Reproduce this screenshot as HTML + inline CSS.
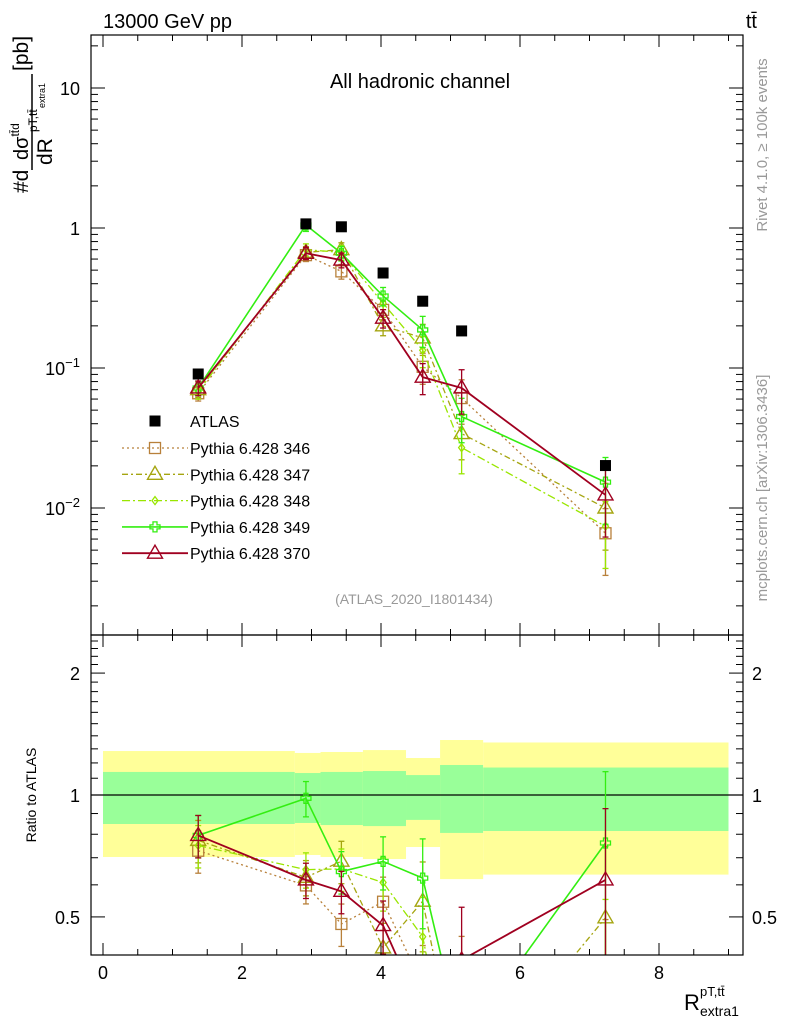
<!DOCTYPE html>
<html><head><meta charset="utf-8"><style>body{margin:0;background:#fff;overflow:hidden}svg{display:block;font-family:"Liberation Sans",sans-serif}</style></head>
<body>
<svg id="c" width="786" height="1024" viewBox="0 0 786 1024">
<defs>
<clipPath id="cm"><rect x="91" y="35" width="652" height="600"/></clipPath>
<clipPath id="cr"><rect x="91" y="635" width="652" height="320"/></clipPath>
</defs>
<g id="bands" clip-path="url(#cr)"></g>
<g id="marksR" clip-path="url(#cr)"></g>
<g id="marksM" clip-path="url(#cm)"></g>
<g id="axes"></g>
<text x="103" y="28" font-size="20">13000 GeV pp</text>
<text x="757" y="28" font-size="20" text-anchor="end">tt̄</text>
<text x="420" y="88" font-size="20" text-anchor="middle">All hadronic channel</text>
<text x="414" y="604" font-size="14" fill="#999" text-anchor="middle">(ATLAS_2020_I1801434)</text>
<text transform="translate(767,145) rotate(-90)" font-size="15" fill="#999" text-anchor="middle">Rivet 4.1.0, ≥ 100k events</text>
<text transform="translate(767,488) rotate(-90)" font-size="15" fill="#999" text-anchor="middle">mcplots.cern.ch [arXiv:1306.3436]</text>
<g transform="translate(0,200) rotate(-90)">
<text x="7" y="28" font-size="21">#d</text>
<text x="40" y="28" font-size="20">dσ<tspan font-size="12" dy="-9">tt̄d</tspan></text>
<line x1="30" y1="32" x2="126" y2="32" stroke="#000" stroke-width="1.5"/>
<text x="35" y="52" font-size="21">dR</text>
<text x="68" y="37" font-size="12">pT,tt̄</text>
<text x="92" y="45" font-size="9">extra1</text>
<text x="129" y="28" font-size="21">[pb]</text>
</g>
<text transform="translate(36,795) rotate(-90)" font-size="14" text-anchor="middle">Ratio to ATLAS</text>
<text x="684" y="1010" font-size="22">R</text>
<text x="700" y="996" font-size="13">pT,tt̄</text>
<text x="700" y="1016" font-size="14">extra1</text>
<g id="legend"></g>
</svg>
<script>
const xCenters=[1.37,2.92,3.43,4.03,4.6,5.16,7.23];
const atlas=[0.0906,1.07,1.02,0.477,0.30,0.184,0.0201];
const s346=[0.066,0.64,0.49,0.26,0.102,0.061,0.0066];
const s347=[0.070,0.67,0.70,0.20,0.164,0.034,0.010];
const s348=[0.068,0.70,0.67,0.29,0.134,0.027,0.0074];
const s349=[0.072,1.05,0.66,0.327,0.187,0.045,0.0153];
const s370=[0.072,0.66,0.59,0.227,0.086,0.072,0.0124];
const simRelErr=[0.12,0.1,0.12,0.15,0.25,0.35,0.5];
const binEdges=[0,2.76,3.13,3.74,4.36,4.85,5.47,9.0];
const bandY_hi=[1.284,1.27,1.277,1.291,1.234,1.367,1.348];
const bandY_lo=[0.703,0.711,0.703,0.695,0.744,0.62,0.636];
const bandG_hi=[1.14,1.133,1.14,1.146,1.12,1.186,1.169];
const bandG_lo=[0.848,0.853,0.843,0.838,0.868,0.806,0.815];
const xTicks=[0,2,4,6,8];
const ratioTicks=[0.5,1,2];

const NS="http://www.w3.org/2000/svg";
const L0=91,R0=743;
const X=v=>103+v*69.5;
const YM=v=>228-140*Math.log10(v);
const YR=v=>795-405*Math.log10(v);
function el(t,a,p){const e=document.createElementNS(NS,t);for(const k in a)e.setAttribute(k,a[k]);p.appendChild(e);return e;}
const bands=document.getElementById('bands'),mR=document.getElementById('marksR'),mM=document.getElementById('marksM'),ax=document.getElementById('axes'),lg=document.getElementById('legend');
for(let i=0;i<binEdges.length-1;i++){
 let r=el('rect',{x:X(binEdges[i]),y:YR(bandY_hi[i]),width:X(binEdges[i+1])-X(binEdges[i]),height:YR(bandY_lo[i])-YR(bandY_hi[i]),fill:'#ffff99'},bands);
 
 
 let g=el('rect',{x:X(binEdges[i]),y:YR(bandG_hi[i]),width:X(binEdges[i+1])-X(binEdges[i]),height:YR(bandG_lo[i])-YR(bandG_hi[i]),fill:'#99ff99'},bands);
 
 
}
el('line',{x1:L0,x2:R0,y1:YR(1),y2:YR(1),stroke:'#000','stroke-width':1.2},bands);
function marker(p,type,x,y,col){
 if(type==='sq')return el('rect',{x:x-5.5,y:y-5.5,width:11,height:11,fill:'none',stroke:col,'stroke-width':1.3},p);
 if(type==='tri')return el('path',{d:`M${x},${y-8}L${x+7.5},${y+5}L${x-7.5},${y+5}Z`,fill:'none',stroke:col,'stroke-width':1.4},p);
 if(type==='dia')return el('path',{d:`M${x},${y-4}L${x+3},${y}L${x},${y+4}L${x-3},${y}Z`,fill:'none',stroke:col,'stroke-width':1.3},p);
 if(type==='cross')return el('path',{d:`M${x-2},${y-5}h4v3h3v4h-3v3h-4v-3h-3v-4h3Z`,fill:'none',stroke:col,'stroke-width':1.3},p);
}
const series=[
 {name:'Pythia 6.428 346',v:s346,col:'#b8803a',dash:'2,3',m:'sq',w:1.3},
 {name:'Pythia 6.428 347',v:s347,col:'#a5a510',dash:'6,3,2,3',m:'tri',w:1.3},
 {name:'Pythia 6.428 348',v:s348,col:'#99e600',dash:'8,3,2,3',m:'dia',w:1.3},
 {name:'Pythia 6.428 349',v:s349,col:'#33ee11',dash:'',m:'cross',w:1.6},
 {name:'Pythia 6.428 370',v:s370,col:'#a00020',dash:'',m:'tri',w:1.8}
];
series.forEach((s,si)=>{
 [[mM,YM,s.v],[mR,YR,s.v.map((v,i)=>v/atlas[i])]].forEach(([p,Y,vals])=>{
  const g=el('g',{},p);
  
  
  const pl=el('polyline',{points:vals.map((v,i)=>X(xCenters[i])+','+Y(v)).join(' '),fill:'none',stroke:s.col,'stroke-width':s.w},g);
  if(s.dash)pl.setAttribute('stroke-dasharray',s.dash);
  vals.forEach((v,i)=>{
   const x=X(xCenters[i]),e=simRelErr[i];
   const y1=Y(v*(1+e)),y2=Y(Math.max(v*(1-e),1e-4));
   el('line',{x1:x,x2:x,y1:y1,y2:y2,stroke:s.col,'stroke-width':1.3},g);
   el('line',{x1:x-3,x2:x+3,y1:y1,y2:y1,stroke:s.col,'stroke-width':1.3},g);
   el('line',{x1:x-3,x2:x+3,y1:y2,y2:y2,stroke:s.col,'stroke-width':1.3},g);
   const mk=marker(g,s.m,x,Y(v),s.col);
   
   
  });
 });
 const ly=448+si*26.3;
 const lgl=el('line',{x1:122,x2:188,y1:ly,y2:ly,stroke:s.col,'stroke-width':s.w},lg);
 if(s.dash)lgl.setAttribute('stroke-dasharray',s.dash);
 marker(lg,s.m,155,ly,s.col);
 const t=el('text',{x:190,y:ly+6,'font-size':16},lg);t.textContent=s.name;
 
 
});
atlas.forEach((v,i)=>{
 const r=el('rect',{x:X(xCenters[i])-5.5,y:YM(v)-5.5,width:11,height:11,fill:'#000'},mM);
 
 
});
el('rect',{x:149.5,y:415.5,width:11,height:11,fill:'#000'},lg);
{const t=el('text',{x:190,y:427,'font-size':16},lg);t.textContent='ATLAS';

}
el('rect',{x:L0,y:35,width:R0-L0,height:600,fill:'none',stroke:'#000','stroke-width':1.2},ax);
el('rect',{x:L0,y:635,width:R0-L0,height:320,fill:'none',stroke:'#000','stroke-width':1.2},ax);
for(let k=0;k<=18;k++){const v=k*0.5;const x=X(v);if(x>R0)continue;const L=(k%4===0)?12:6;
 [[35,1],[635,-1],[635,1],[955,-1]].forEach(([y,d])=>el('line',{x1:x,x2:x,y1:y,y2:y+d*L,stroke:'#000'},ax));}
xTicks.forEach(v=>{const t=el('text',{x:X(v),y:979,'font-size':18,'text-anchor':'middle'},ax);t.textContent=v;
 
 });
for(let d=-3;d<=1;d++)for(let k=1;k<10;k++){const v=k*Math.pow(10,d),y=YM(v);if(y<35||y>635)continue;const L=k===1?14:7;
 el('line',{x1:L0,x2:L0+L,y1:y,y2:y,stroke:'#000'},ax);el('line',{x1:R0,x2:R0-L,y1:y,y2:y,stroke:'#000'},ax);}
[['10',10],['1',1]].forEach(([s,v])=>{const t=el('text',{x:80,y:YM(v)+7,'font-size':18,'text-anchor':'end'},ax);t.textContent=s;});
[[-1,0.1],[-2,0.01]].forEach(([e,v])=>{const t=el('text',{x:80,y:YM(v)+7,'font-size':18,'text-anchor':'end'},ax);t.textContent='10';
 const s=el('tspan',{'font-size':13,dy:-8},t);s.textContent='−'+(-e);});
[0.4,0.5,0.6,0.7,0.8,0.9,1,1.1,1.2,1.3,1.4,1.5,1.6,1.7,1.8,1.9,2,2.1,2.2,2.3,2.4].forEach(v=>{const y=YR(v);if(y<635||y>955)return;const L=ratioTicks.includes(v)?14:7;
 el('line',{x1:L0,x2:L0+L,y1:y,y2:y,stroke:'#000'},ax);el('line',{x1:R0,x2:R0-L,y1:y,y2:y,stroke:'#000'},ax);});
ratioTicks.forEach(v=>{let t=el('text',{x:80,y:YR(v)+7,'font-size':18,'text-anchor':'end'},ax);t.textContent=v;
 t=el('text',{x:752,y:YR(v)+7,'font-size':18},ax);t.textContent=v;});
</script>
</body></html>
